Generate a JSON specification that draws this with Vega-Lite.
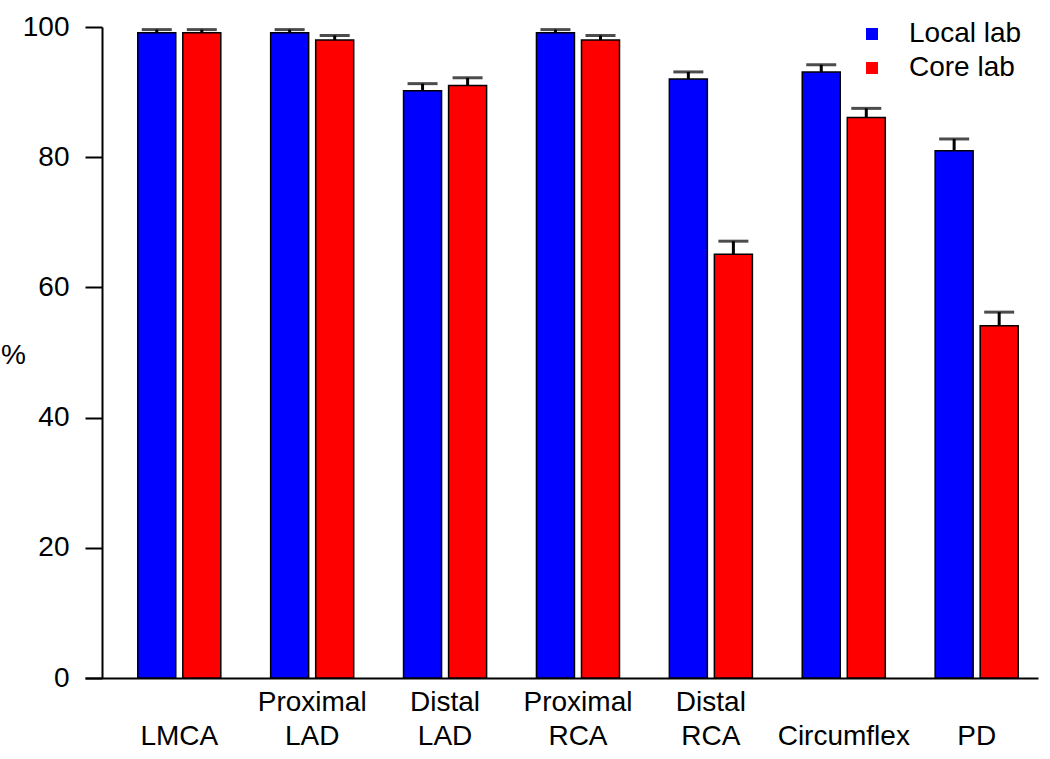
{
  "$schema": "https://vega.github.io/schema/vega-lite/v6.json",
  "width": 953,
  "height": 651,
  "autosize": {"type": "none"},
  "padding": {"left": 85, "top": 27, "right": 12, "bottom": 81},
  "config": {"view": {"stroke": null}, "font": "Liberation Sans"},
  "data": {
    "values": [
      {"artery": "LMCA", "lab": "Local lab", "value": 99.1, "upper": 99.6},
      {"artery": "LMCA", "lab": "Core lab", "value": 99.1, "upper": 99.6},
      {"artery": "Proximal LAD", "lab": "Local lab", "value": 99.1, "upper": 99.6},
      {"artery": "Proximal LAD", "lab": "Core lab", "value": 98.0, "upper": 98.7},
      {"artery": "Distal LAD", "lab": "Local lab", "value": 90.2, "upper": 91.3},
      {"artery": "Distal LAD", "lab": "Core lab", "value": 91.0, "upper": 92.2},
      {"artery": "Proximal RCA", "lab": "Local lab", "value": 99.1, "upper": 99.6},
      {"artery": "Proximal RCA", "lab": "Core lab", "value": 98.0, "upper": 98.7},
      {"artery": "Distal RCA", "lab": "Local lab", "value": 92.0, "upper": 93.1},
      {"artery": "Distal RCA", "lab": "Core lab", "value": 65.1, "upper": 67.1},
      {"artery": "Circumflex", "lab": "Local lab", "value": 93.1, "upper": 94.2},
      {"artery": "Circumflex", "lab": "Core lab", "value": 86.1, "upper": 87.5},
      {"artery": "PD", "lab": "Local lab", "value": 81.0, "upper": 82.8},
      {"artery": "PD", "lab": "Core lab", "value": 54.1, "upper": 56.2}
    ]
  },
  "encoding": {
    "x": {
      "field": "artery",
      "type": "nominal",
      "sort": ["LMCA", "Proximal LAD", "Distal LAD", "Proximal RCA", "Distal RCA", "Circumflex", "PD"],
      "scale": {"paddingInner": 0.375, "paddingOuter": 0.273, "align": 0.727},
      "axis": {
        "title": null,
        "ticks": false,
        "domainWidth": 2,
        "domainColor": "black",
        "labelFontSize": 28,
        "labelColor": "black",
        "labelAngle": 0,
        "labelPadding": 10,
        "labelLineHeight": 34,
        "labelBaseline": "top",
        "labelExpr": "indexof(datum.label, ' ') > 0 ? split(datum.label, ' ') : ['', datum.label]"
      }
    },
    "xOffset": {
      "field": "lab",
      "type": "nominal",
      "sort": ["Local lab", "Core lab"],
      "scale": {"paddingInner": 0.156}
    }
  },
  "layer": [
    {
      "mark": {"type": "bar", "stroke": "black", "strokeWidth": 1.5},
      "encoding": {
        "y": {
          "field": "value",
          "type": "quantitative",
          "scale": {"domain": [0, 100], "nice": false},
          "axis": {
            "values": [0, 20, 40, 60, 80, 100],
            "grid": false,
            "offset": -17,
            "tickSize": 17,
            "tickWidth": 2,
            "tickColor": "black",
            "domainWidth": 2,
            "domainColor": "black",
            "labelFontSize": 28,
            "labelColor": "black",
            "labelPadding": 16,
            "title": "%",
            "titleAngle": 0,
            "titleX": -89,
            "titleY": 328,
            "titleFontSize": 28,
            "titleFontWeight": "normal",
            "titleColor": "black",
            "titleAlign": "center",
            "titleBaseline": "middle"
          }
        },
        "color": {
          "field": "lab",
          "type": "nominal",
          "scale": {"domain": ["Local lab", "Core lab"], "range": ["#0000ff", "#ff0000"]},
          "legend": {
            "title": null,
            "orient": "none",
            "legendX": 773,
            "legendY": -7,
            "padding": 0,
            "symbolType": "square",
            "symbolSize": 144,
            "symbolStrokeWidth": 0,
            "labelOffset": 23,
            "labelFontSize": 28,
            "labelColor": "black",
            "rowPadding": 6
          }
        }
      }
    },
    {
      "mark": {"type": "rule", "strokeWidth": 3, "color": "black"},
      "encoding": {
        "y": {"field": "value", "type": "quantitative"},
        "y2": {"field": "upper"}
      }
    },
    {
      "mark": {"type": "tick", "size": 30, "thickness": 3, "color": "black"},
      "encoding": {
        "y": {"field": "upper", "type": "quantitative"}
      }
    }
  ]
}
